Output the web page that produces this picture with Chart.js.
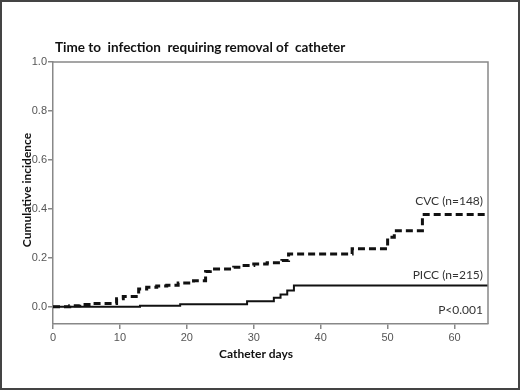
<!DOCTYPE html>
<html>
<head>
<meta charset="utf-8">
<script src="https://cdn.jsdelivr.net/npm/chart.js@4.4.1/dist/chart.umd.min.js"></script>
<style>
  html, body { margin: 0; padding: 0; background: #fff; }
  #wrap { width: 520px; height: 390px; }
</style>
</head>
<body>
<div id="wrap"><canvas id="chart1" width="520" height="390"></canvas></div>
<script>
// Dados (Kaplan-Meier, incidência cumulativa)
const cvcDays = [0, 2.5, 4, 6, 9.5, 10.5, 12.8, 14, 15.5, 17, 18.7, 21, 22.8, 23.5, 27, 28, 30, 32, 34.2, 35.2, 44.7, 50, 51, 55.2, 65];
const cvcInc  = [0, 0.005, 0.01, 0.014, 0.033, 0.042, 0.073, 0.08, 0.085, 0.088, 0.097, 0.107, 0.144, 0.155, 0.162, 0.169, 0.175, 0.18, 0.189, 0.216, 0.237, 0.284, 0.311, 0.377, 0.377];

const piccDays = [0, 13, 19, 29, 33, 34, 35, 36, 65];
const piccInc  = [0, 0.005, 0.011, 0.023, 0.037, 0.05, 0.067, 0.087, 0.087];

const xTicks = [0, 10, 20, 30, 40, 50, 60];
const yTicks = [0, 0.2, 0.4, 0.6, 0.8, 1.0];

const titulo = 'Time to  infection  requiring removal of  catheter';
const labels = ['CVC (n=148)', 'PICC (n=215)', 'P<0.001'];

function toPoints(xs, ys) {
    return xs.map((x, i) => ({ x: x, y: ys[i] }));
}

// Plugin para moldura, caixa do gráfico e textos
const textos = {
    id: 'textos',
    afterDraw(chart) {
        const ctx = chart.ctx;
        const a = chart.chartArea;
        const ys = chart.scales.y;
        ctx.save();
        // caixa
        ctx.strokeStyle = '#888';
        ctx.lineWidth = 1.5;
        ctx.beginPath();
        ctx.moveTo(a.left, a.top);
        ctx.lineTo(a.right, a.top);
        ctx.lineTo(a.right, a.bottom);
        ctx.stroke();
        // moldura externa
        ctx.strokeStyle = '#444';
        ctx.lineWidth = 2;
        ctx.strokeRect(1, 1, 518, 388);

        ctx.fillStyle = '#111';
        ctx.font = 'bold 13.5px Lato';
        ctx.textAlign = 'left';
        ctx.textBaseline = 'middle';
        ctx.fillText(titulo, 55, 48);

        ctx.font = 'bold 12px Lato';
        ctx.textAlign = 'center';
        ctx.fillText('Catheter days', 256, 354);

        ctx.save();
        ctx.translate(27, 190);
        ctx.rotate(-Math.PI / 2);
        ctx.fillText('Cumulative incidence', 0, 0);
        ctx.restore();

        ctx.fillStyle = '#333';
        ctx.font = '12px Lato';
        ctx.textAlign = 'right';
        ctx.fillText(labels[0], 483, ys.getPixelForValue(0.43));
        ctx.fillText(labels[1], 483, ys.getPixelForValue(0.128));
        ctx.fillText(labels[2], 483, ys.getPixelForValue(-0.015));
        ctx.restore();
    }
};

const ctx = document.getElementById('chart1').getContext('2d');
new Chart(ctx, {
    type: 'line',
    data: {
        datasets: [{
            label: 'CVC',
            data: toPoints(cvcDays, cvcInc),
            stepped: 'before',
            borderColor: '#111',
            borderWidth: 3,
            borderDash: [7, 4],
            pointRadius: 0,
            fill: false
        }, {
            label: 'PICC',
            data: toPoints(piccDays, piccInc),
            stepped: 'before',
            borderColor: '#111',
            borderWidth: 2,
            pointRadius: 0,
            fill: false
        }]
    },
    options: {
        responsive: false,
        animation: false,
        layout: { padding: { left: 0, top: 62, right: 32, bottom: 0 } },
        plugins: { legend: { display: false }, tooltip: { enabled: false } },
        scales: {
            x: {
                type: 'linear',
                min: 0,
                max: 65,
                afterBuildTicks: s => { s.ticks = xTicks.map(v => ({ value: v })); },
                afterFit: s => { s.height = 66; },
                grid: { display: true, drawOnChartArea: false, drawTicks: true, tickLength: 5, color: '#888', lineWidth: 1.5 },
                border: { display: true, color: '#888', width: 1.5 },
                ticks: { color: '#555', font: { family: 'Liberation Sans', size: 11 }, padding: 2, maxRotation: 0 }
            },
            y: {
                type: 'linear',
                min: -0.07,
                max: 1.0,
                afterBuildTicks: s => { s.ticks = yTicks.map(v => ({ value: v })); },
                afterFit: s => { s.width = 53; },
                grid: { display: true, drawOnChartArea: false, drawTicks: true, tickLength: 5, color: '#888', lineWidth: 1.5 },
                border: { display: true, color: '#888', width: 1.5 },
                ticks: { color: '#555', font: { family: 'Liberation Sans', size: 11 }, padding: 1, callback: v => v.toFixed(1) }
            }
        }
    },
    plugins: [textos]
});
</script>
</body>
</html>
